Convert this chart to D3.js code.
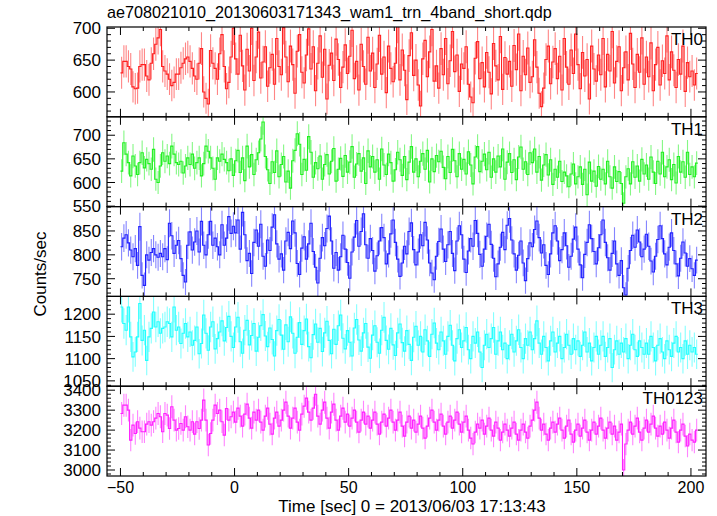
<!DOCTYPE html>
<html><head><meta charset="utf-8">
<script src="https://cdn.jsdelivr.net/npm/d3@7"></script>
<style>body{margin:0;background:#fff}svg{display:block}text{font-family:"Liberation Sans",Arial,Helvetica,sans-serif;fill:#000}</style>
</head><body><svg id="c" width="717" height="516"></svg>
<script>
const titleText = "ae708021010_20130603171343_wam1_trn_4band_short.qdp";
const xLabel = "Time [sec] 0 = 2013/06/03 17:13:43";
const yLabel = "Counts/sec";
const binStart = -50, binWidth = 1;
const xTicks = [-50, 0, 50, 100, 150, 200];

const th0 = [630,648,648,640,636,608,605,606,640,643,
643,625,619,645,660,675,685,698,640,633,
628,620,610,615,628,628,638,645,652,655,
648,637,625,620,645,668,600,590,581,665,
645,637,620,660,690,640,605,615,655,700,
652,628,689,641,603,667,633,700,618,655,
694,622,647,671,609,638,659,612,684,640,
627,701,655,616,672,643,598,664,690,631,
614,658,699,636,671,602,645,688,623,667,
589,642,661,618,683,651,607,639,674,629,
656,697,621,648,603,675,640,612,686,633,
661,607,644,689,628,655,599,672,637,616,
645,703,619,666,634,588,657,693,626,650,
611,578,652,681,624,663,698,617,641,606,
668,627,684,613,649,695,632,658,601,644,
637,671,612,592,583,653,679,621,646,608,
662,631,597,676,641,619,687,604,654,628,
648,609,673,635,691,602,656,627,669,615,
624,682,639,598,577,606,651,672,613,647,
668,621,656,603,684,639,612,666,629,691,
643,605,662,625,651,589,672,636,617,658,
627,684,608,659,633,695,614,648,671,602,
638,663,619,692,644,607,659,631,685,612,
655,624,677,602,643,670,611,649,629,688,
619,663,634,607,651,628,672,601,646,624,
633,611,629];

const th1 = [624,684,660,642,614,656,635,617,642,663,
631,649,640,628,670,607,600,635,663,645,
656,640,677,660,642,638,645,620,635,652,
638,660,630,642,652,614,640,677,666,652,
630,607,652,645,660,649,642,625,650,615,
646,668,621,652,604,677,633,659,617,648,
663,692,728,655,627,598,644,621,667,612,
638,655,601,624,588,646,668,703,681,617,
649,626,697,664,611,642,629,656,607,638,
659,618,645,672,603,628,651,613,657,622,
643,676,611,639,661,624,652,598,667,633,
655,622,648,607,671,637,617,660,642,603,
627,664,648,615,655,606,643,676,622,650,
612,645,661,628,668,601,650,623,657,644,
666,632,608,655,621,670,646,612,661,628,
649,618,665,637,597,654,676,623,645,660,
627,664,611,650,622,656,633,671,607,643,
661,621,648,606,654,675,628,644,617,663,
642,671,622,655,605,637,659,616,648,596,
628,611,645,602,622,614,591,618,639,597,
612,633,596,628,574,643,603,624,592,634,
607,628,597,645,612,588,633,602,623,598,
556,612,629,597,644,611,635,603,649,618,
637,607,654,622,598,645,618,664,612,633,
648,606,638,599,655,622,644,611,664,617,
633,612,641];

const th2 = [817,835,842,825,810,796,813,778,859,757,
736,800,789,805,813,800,795,803,796,813,
790,866,840,803,820,830,792,757,743,820,
848,810,827,850,806,870,820,800,842,870,
820,835,817,800,863,820,835,880,845,860,
846,873,812,889,842,788,803,761,826,852,
818,864,797,776,831,809,858,884,823,791,
802,768,829,847,813,871,846,782,759,814,
838,791,823,866,807,774,741,793,836,819,
855,881,829,772,805,768,796,841,812,784,
751,806,837,872,818,849,886,821,793,834,
809,766,798,829,857,836,781,802,844,873,
826,791,755,783,818,802,849,867,811,779,
806,842,819,868,831,783,762,748,797,828,
854,812,786,821,849,803,767,829,861,842,
791,763,808,834,818,872,845,801,776,812,
839,864,822,793,754,781,816,847,811,862,
876,831,802,768,799,829,783,746,792,825,
817,853,871,836,804,821,778,759,802,846,
861,829,788,811,846,819,774,797,833,858,
812,779,752,801,826,863,834,807,781,815,
842,873,826,794,768,803,829,781,757,788,
731,716,772,809,841,816,852,827,796,812,
843,818,787,764,797,832,861,834,802,779,
816,846,809,781,756,793,827,804,776,792,
771,757,789];

const th3 = [1216,1179,1164,1216,1149,1104,1115,1149,1224,1141,
1164,1096,1149,1168,1205,1171,1183,1157,1168,1171,
1183,1179,1149,1216,1164,1171,1134,1157,1179,1149,
1160,1130,1141,1171,1111,1134,1198,1157,1119,1171,
1183,1122,1145,1160,1185,1140,1170,1195,1150,1125,
1171,1193,1138,1112,1164,1186,1131,1152,1179,1117,
1148,1174,1199,1151,1127,1169,1143,1106,1163,1188,
1153,1121,1176,1138,1194,1157,1112,1148,1181,1132,
1163,1189,1127,1102,1154,1178,1137,1168,1116,1158,
1184,1141,1111,1166,1132,1174,1198,1146,1122,1163,
1137,1106,1169,1188,1142,1117,1158,1179,1126,1101,
1153,1174,1137,1112,1164,1193,1141,1121,1168,1131,
1107,1158,1178,1136,1117,1163,1132,1096,1148,1173,
1130,1150,1115,1165,1140,1105,1155,1180,1135,1120,
1160,1140,1110,1150,1175,1130,1095,1145,1165,1125,
1140,1170,1120,1100,1150,1135,1160,1115,1080,1130,
1155,1125,1145,1170,1110,1140,1160,1120,1135,1100,
1130,1155,1115,1140,1165,1125,1100,1145,1130,1160,
1120,1145,1185,1135,1110,1150,1125,1095,1140,1160,
1115,1135,1150,1100,1125,1155,1130,1110,1145,1120,
1140,1105,1130,1160,1115,1135,1095,1125,1150,1110,
1130,1150,1105,1125,1145,1080,1120,1140,1110,1135,
1115,1145,1100,1130,1155,1120,1105,1140,1125,1110,
1135,1110,1150,1125,1095,1130,1145,1115,1100,1140,
1120,1105,1135,1150,1115,1125,1100,1140,1110,1130,
1115,1125,1110];

const th0123 = [3283,3325,3325,3300,3150,3225,3183,3242,3210,3192,
3192,3230,3242,3225,3242,3260,3283,3267,3192,3283,
3275,3208,3317,3250,3200,3208,3233,3200,3267,3217,
3200,3242,3180,3242,3208,3250,3350,3250,3125,3183,
3250,3325,3283,3300,3242,3175,3308,3250,3267,3290,
3240,3310,3270,3220,3280,3330,3260,3210,3290,3250,
3300,3240,3200,3270,3310,3230,3180,3260,3290,3220,
3250,3300,3340,3270,3210,3260,3310,3240,3200,3280,
3320,3360,3290,3250,3310,3380,3270,3230,3300,3340,
3260,3210,3290,3330,3250,3200,3270,3310,3240,3280,
3220,3260,3300,3240,3190,3250,3290,3230,3270,3210,
3250,3290,3230,3180,3240,3280,3220,3260,3300,3240,
3200,3250,3290,3220,3170,3240,3270,3210,3250,3190,
3230,3270,3210,3160,3220,3260,3300,3240,3200,3250,
3280,3220,3180,3240,3270,3210,3250,3290,3230,3190,
3240,3270,3200,3160,3130,3190,3230,3210,3250,3180,
3220,3260,3200,3170,3240,3210,3150,3190,3230,3200,
3170,3210,3240,3180,3150,3200,3230,3190,3160,3220,
3250,3300,3340,3260,3200,3230,3180,3150,3210,3240,
3190,3230,3260,3200,3160,3220,3250,3180,3140,3200,
3230,3170,3210,3250,3190,3150,3200,3240,3180,3220,
3260,3200,3160,3210,3240,3180,3220,3150,3190,3230,
3000,3130,3200,3240,3180,3220,3260,3190,3150,3210,
3250,3190,3230,3270,3210,3170,3220,3180,3240,3200,
3160,3210,3250,3190,3140,3200,3230,3170,3120,3180,
3150,3140,3200];

const names = ["TH0", "TH1", "TH2", "TH3", "TH0123"];
const colors = ["#ff2020", "#20f020", "#2020ff", "#20ffff", "#ff20ff"];
const yDomains = [[561, 702], [549, 739], [713, 901], [1038, 1240], [2970, 3420]];
const yTicks = [[600, 650, 700], [550, 600, 650, 700], [750, 800, 850], [1050, 1100, 1150, 1200], [3000, 3100, 3200, 3300, 3400]];
const yMinorStep = [10, 10, 10, 10, 20];
const allSeries = [th0, th1, th2, th3, th0123];

const svg = d3.select("#c");
const L = 107, R = 706, T = 27, B = 476;
const nP = 5, pH = (B - T) / nP;
const x = d3.scaleLinear().domain([-55.9, 206.6]).range([L, R]);
const xMinor = d3.range(-50, 206, 10);
const MAJ = 8, MIN = 4;

svg.append("defs").selectAll("clipPath").data(names).enter().append("clipPath")
  .attr("id", (d, i) => "cp" + i)
  .append("rect").attr("x", L).attr("width", R - L)
  .attr("y", (d, i) => T + i * pH).attr("height", pH);

allSeries.forEach((vals, i) => {
  const top = T + i * pH, bot = top + pH;
  const y = d3.scaleLinear().domain(yDomains[i]).range([bot, top]);
  const g = svg.append("g");
  const dg = g.append("g").attr("clip-path", `url(#cp${i})`);
  const pts = vals.map((v, k) => ({t0: binStart + k * binWidth, v: v, e: Math.sqrt(v * binWidth) / binWidth}));
  dg.selectAll("line.err").data(pts).enter().append("line")
    .attr("x1", d => x(d.t0 + binWidth / 2)).attr("x2", d => x(d.t0 + binWidth / 2))
    .attr("y1", d => y(d.v - d.e)).attr("y2", d => y(d.v + d.e))
    .attr("stroke", colors[i]).attr("stroke-width", 1.1).attr("stroke-opacity", 0.55);
  const stepPts = pts.map(d => [d.t0, d.v]).concat([[pts[pts.length - 1].t0 + binWidth, pts[pts.length - 1].v]]);
  dg.append("path")
    .attr("d", d3.line().x(d => x(d[0])).y(d => y(d[1])).curve(d3.curveStepAfter)(stepPts))
    .attr("fill", "none").attr("stroke", colors[i]).attr("stroke-width", 1.1);

  g.append("rect").attr("x", L).attr("y", top).attr("width", R - L).attr("height", pH)
    .attr("fill", "none").attr("stroke", "#000").attr("stroke-width", 1.2);

  const tk = g.append("g").attr("stroke", "#000").attr("stroke-width", 1);
  xMinor.forEach(t => {
    const len = xTicks.includes(t) ? MAJ : MIN;
    const px = x(t);
    tk.append("line").attr("x1", px).attr("x2", px).attr("y1", bot).attr("y2", bot - len);
    tk.append("line").attr("x1", px).attr("x2", px).attr("y1", top).attr("y2", top + len);
  });
  const d0 = yDomains[i];
  const ms = yMinorStep[i];
  for (let v = Math.ceil(d0[0] / ms) * ms; v <= d0[1]; v += ms) {
    const len = yTicks[i].includes(v) ? MAJ : MIN;
    const py = y(v);
    tk.append("line").attr("x1", L).attr("x2", L + len).attr("y1", py).attr("y2", py);
    tk.append("line").attr("x1", R).attr("x2", R - len).attr("y1", py).attr("y2", py);
  }
  g.selectAll("text.yt").data(yTicks[i]).enter().append("text")
    .attr("x", L - 6).attr("y", d => y(d)).attr("dy", "0.36em")
    .attr("text-anchor", "end").attr("font-size", 17).text(d => d);
  g.append("text").attr("x", R - 3).attr("y", top + 18).attr("text-anchor", "end")
    .attr("font-size", 17).text(names[i]);
});

svg.selectAll("text.xt").data(xTicks).enter().append("text")
  .attr("x", d => x(d)).attr("y", B + 17).attr("text-anchor", "middle")
  .attr("font-size", 16).text(d => d < 0 ? "\u2212" + Math.abs(d) : d);

svg.append("text").attr("x", 412).attr("y", 512).attr("text-anchor", "middle")
  .attr("font-size", 17).text(xLabel);
svg.append("text").attr("transform", `translate(46,274) rotate(-90)`)
  .attr("text-anchor", "middle").attr("font-size", 17).text(yLabel);
svg.append("text").attr("x", L).attr("y", 18).attr("font-size", 16.2).text(titleText);
</script></body></html>
